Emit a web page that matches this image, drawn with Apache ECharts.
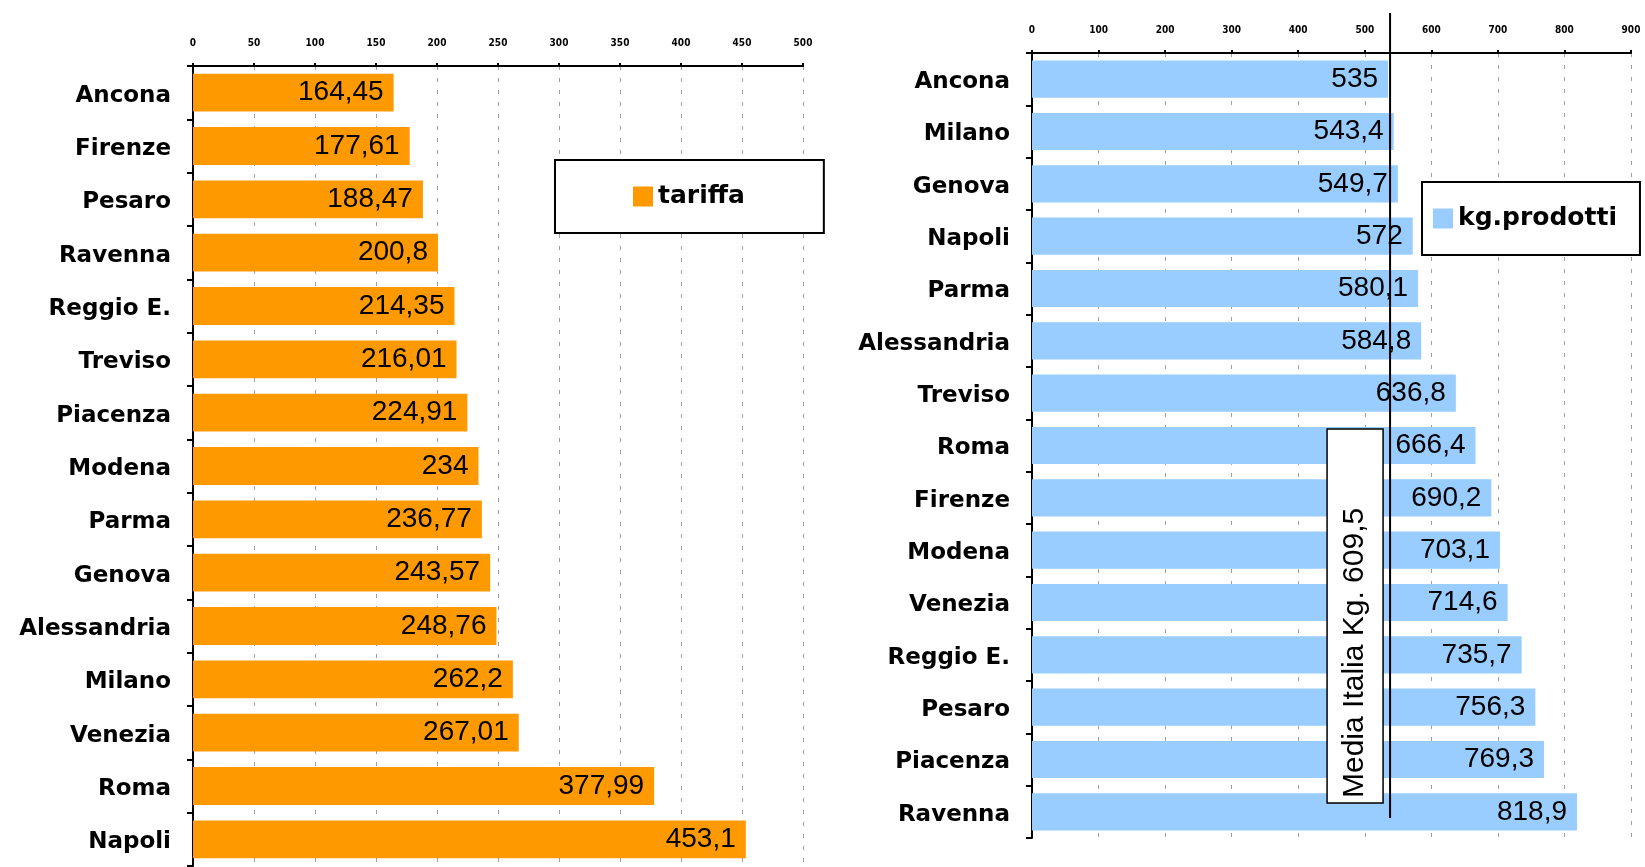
<!DOCTYPE html>
<html><head><meta charset="utf-8">
<script src="https://cdn.jsdelivr.net/npm/echarts@6/dist/echarts.min.js"></script>
<style>html,body{margin:0;padding:0;background:#fff}#c{width:1645px;height:867px}</style>
</head><body><div id="c"></div>
<script>
// ---- data ----
const tariffaCities = ['Ancona','Firenze','Pesaro','Ravenna','Reggio E.','Treviso','Piacenza','Modena','Parma','Genova','Alessandria','Milano','Venezia','Roma','Napoli'];
const tariffaValues = [164.45,177.61,188.47,200.8,214.35,216.01,224.91,234,236.77,243.57,248.76,262.2,267.01,377.99,453.1];
const kgCities = ['Ancona','Milano','Genova','Napoli','Parma','Alessandria','Treviso','Roma','Firenze','Modena','Venezia','Reggio E.','Pesaro','Piacenza','Ravenna'];
const kgValues = [535,543.4,549.7,572,580.1,584.8,636.8,666.4,690.2,703.1,714.6,735.7,756.3,769.3,818.9];
const tariffaTicks = [0,50,100,150,200,250,300,350,400,450,500];
const kgTicks = [0,100,200,300,400,500,600,700,800,900];
const seriesNames = ['tariffa','kg.prodotti'];
const mediaText = 'Media Italia Kg. 609,5';
const mediaLinePos = 538; // where the line sits in the picture

const CAT_FONT = 'DejaVu Sans';
const VAL_FONT = 'Liberation Sans';
const fmt = p => String(p.value).replace('.', ',');

function xAxisCfg(idx, ticks) {
  return {
    gridIndex: idx, type: 'value', position: 'top',
    min: ticks[0], max: ticks[ticks.length - 1], interval: ticks[1] - ticks[0],
    axisLine: {show: true, lineStyle: {color: '#000', width: 2}},
    axisTick: {show: true, length: 3, lineStyle: {color: '#000', width: 2}},
    axisLabel: {fontSize: 10, fontWeight: 'bold', color: '#000', margin: 18, fontFamily: 'DejaVu Sans Condensed'},
    splitLine: {show: true, lineStyle: {color: '#a0a0a0', width: 1, type: [4, 8]}}
  };
}
function yAxisCfg(idx, cats) {
  return {
    gridIndex: idx, type: 'category', data: cats, inverse: true,
    axisLine: {show: true, lineStyle: {color: '#000', width: 2}},
    axisTick: {show: true, length: 6, lineStyle: {color: '#000', width: 2}},
    axisLabel: {margin: 22, formatter: v => '{c|' + v + '}',
                rich: {c: {fontSize: 23, fontWeight: 'bold', color: '#000', fontFamily: CAT_FONT,
                           padding: [6, 0, 0, 0]}}},
    splitLine: {show: false}
  };
}
function barSeries(idx, name, vals, color) {
  return {
    type: 'bar', name: name, xAxisIndex: idx, yAxisIndex: idx, data: vals,
    barCategoryGap: '29%',
    itemStyle: {color: color},
    label: {show: true, position: 'insideRight', distance: 10, color: '#000',
            fontSize: 28, fontFamily: VAL_FONT, formatter: fmt}
  };
}
const legendText = {fontSize: 25, fontWeight: 'bold', color: '#000', fontFamily: CAT_FONT};

const chart = echarts.init(document.getElementById('c'), null, {renderer: 'canvas'});
chart.setOption({
  animation: false,
  backgroundColor: '#fff',
  grid: [
    {left: 193, top: 66, width: 610, height: 800},
    {left: 1032, top: 53, width: 599, height: 785}
  ],
  xAxis: [xAxisCfg(0, tariffaTicks), xAxisCfg(1, kgTicks)],
  yAxis: [yAxisCfg(0, tariffaCities), yAxisCfg(1, kgCities)],
  legend: [
    {data: [seriesNames[0]], left: 555, top: 160, padding: [24, 79, 24, 78],
     itemWidth: 20, itemHeight: 20, icon: 'rect', backgroundColor: '#fff',
     borderColor: '#000', borderWidth: 2, textStyle: legendText},
    {data: [seriesNames[1]], left: 1422, top: 182, padding: [24, 23, 24, 11],
     itemWidth: 20, itemHeight: 20, icon: 'rect', backgroundColor: '#fff',
     borderColor: '#000', borderWidth: 2, textStyle: legendText}
  ],
  series: [
    barSeries(0, seriesNames[0], tariffaValues, '#FF9900'),
    barSeries(1, seriesNames[1], kgValues, '#99CCFF')
  ]
});

const px = chart.convertToPixel({xAxisIndex: 1}, mediaLinePos);
chart.setOption({
  graphic: [
    {type: 'line', z: 100, shape: {x1: px, y1: 13, x2: px, y2: 818},
     style: {stroke: '#000', lineWidth: 2}},
    {type: 'rect', z: 100, shape: {x: px - 63, y: 429, width: 56, height: 374},
     style: {fill: '#fff', stroke: '#000', lineWidth: 1.5}},
    {type: 'text', z: 101, x: px - 35, y: 798, rotation: Math.PI / 2,
     style: {text: mediaText, x: 0, y: 0, fontSize: 30, fontFamily: VAL_FONT,
             fill: '#000', align: 'left', verticalAlign: 'middle'}}
  ]
});
</script>
</body></html>
